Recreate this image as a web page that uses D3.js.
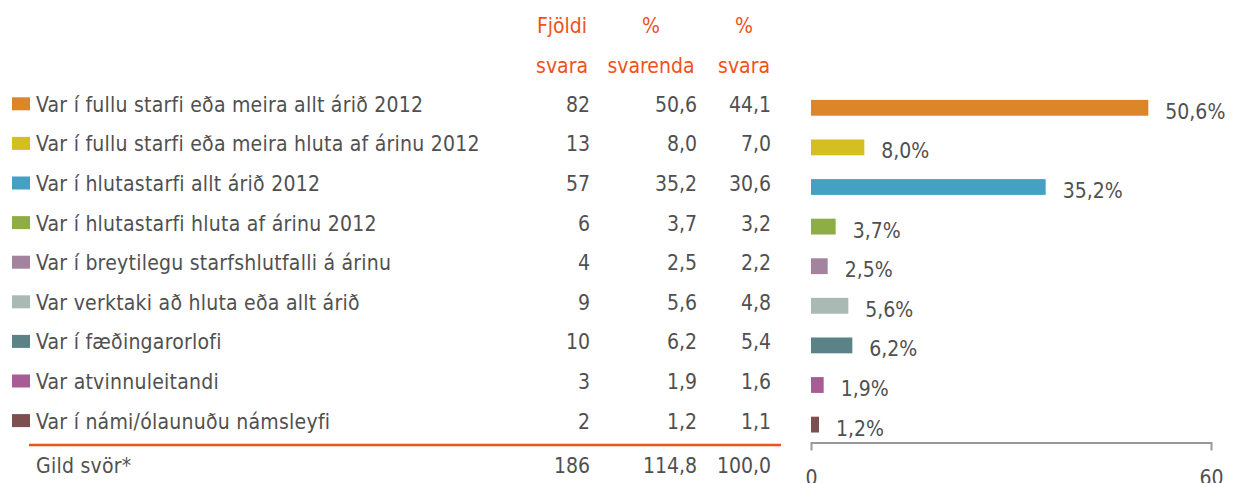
<!DOCTYPE html>
<html>
<head>
<meta charset="utf-8">
<script src="https://cdn.jsdelivr.net/npm/d3@7"></script>
<style>
  html, body { margin: 0; padding: 0; background: #fff; }
  svg { display: block; }
  text { font-family: "Liberation Sans Narrow", "DejaVu Sans Condensed", "Roboto", sans-serif; }
</style>
</head>
<body>
<svg id="chart" width="1237" height="483"></svg>
<script>
const categories = [
  "Var í fullu starfi eða meira allt árið 2012",
  "Var í fullu starfi eða meira hluta af árinu 2012",
  "Var í hlutastarfi allt árið 2012",
  "Var í hlutastarfi hluta af árinu 2012",
  "Var í breytilegu starfshlutfalli á árinu",
  "Var verktaki að hluta eða allt árið",
  "Var í fæðingarorlofi",
  "Var atvinnuleitandi",
  "Var í námi/ólaunuðu námsleyfi"
];
const counts = [82, 13, 57, 6, 4, 9, 10, 3, 2];
const pctRespondents = [50.6, 8.0, 35.2, 3.7, 2.5, 5.6, 6.2, 1.9, 1.2];
const pctAnswers = [44.1, 7.0, 30.6, 3.2, 2.2, 4.8, 5.4, 1.6, 1.1];
const colors = ["#db8629", "#d4be22", "#45a1c4", "#8fad45", "#a3849f", "#a9b9b3", "#5b8286", "#a85b94", "#7d4f4e"];
const headers = [["Fjöldi", "svara"], ["%", "svarenda"], ["%", "svara"]];
const totalLabel = "Gild svör*";
const totals = ["186", "114,8", "100,0"];
const axisTicks = [0, 60];

const fmt = v => d3.format(".1f")(v).replace(".", ",");
const textColor = "#505050";
const accent = "#f0521a";
const fs = 21;

const svg = d3.select("#chart");

const x = d3.scaleLinear().domain([0, 60]).range([811, 1211]);
const y = d3.scaleBand().domain(categories).range([88, 88 + 356.4]).paddingInner(0.6).paddingOuter(0.3);
const mid = c => y(c) + y.bandwidth() / 2;

// Header
const colRight = [590, 697, 771];
const colCenter = [562, 651, 744];
headers.forEach((h, i) => {
  h.forEach((t, j) => {
    svg.append("text")
      .attr("x", colCenter[i]).attr("y", 33 + j * 39.6)
      .attr("text-anchor", "middle")
      .attr("fill", accent).attr("font-size", fs)
      .text(t);
  });
});

// Rows
const rows = svg.append("g").selectAll("g").data(categories).join("g");
rows.append("rect")
  .attr("x", 12).attr("y", c => mid(c) - 10.5)
  .attr("width", 18).attr("height", 13)
  .attr("fill", (c, i) => colors[i]);
rows.append("text")
  .attr("x", 36).attr("y", c => mid(c) + 4)
  .attr("fill", textColor).attr("font-size", fs)
  .attr("letter-spacing", 0.25)
  .text(c => c);
const cols = [counts.map(String), pctRespondents.map(fmt), pctAnswers.map(fmt)];
cols.forEach((col, k) => {
  rows.append("text")
    .attr("x", colRight[k]).attr("y", c => mid(c) + 4)
    .attr("text-anchor", "end")
    .attr("fill", textColor).attr("font-size", fs)
    .text((c, i) => col[i]);
});

// Separator & totals
svg.append("line").attr("x1", 29).attr("x2", 781).attr("y1", 445).attr("y2", 445)
  .attr("stroke", accent).attr("stroke-width", 2.5);
svg.append("text").attr("x", 36).attr("y", 473)
  .attr("fill", textColor).attr("font-size", fs).attr("letter-spacing", 0.25).text(totalLabel);
totals.forEach((t, k) => {
  svg.append("text").attr("x", colRight[k]).attr("y", 473)
    .attr("text-anchor", "end").attr("fill", textColor).attr("font-size", fs).text(t);
});

// Bars
svg.append("g").selectAll("rect").data(categories).join("rect")
  .attr("x", x(0)).attr("y", c => y(c))
  .attr("width", (c, i) => x(pctRespondents[i]) - x(0))
  .attr("height", y.bandwidth())
  .attr("fill", (c, i) => colors[i]);
svg.append("g").selectAll("text").data(categories).join("text")
  .attr("x", (c, i) => x(pctRespondents[i]) + 17)
  .attr("y", c => mid(c) + 11)
  .attr("fill", textColor).attr("font-size", fs)
  .text((c, i) => fmt(pctRespondents[i]) + "%");

// Axis
const axis = d3.axisBottom(x).tickValues(axisTicks).tickSizeInner(0).tickSizeOuter(8).tickPadding(28)
  .tickFormat(d3.format("d"));
const ag = svg.append("g").attr("transform", "translate(0,442.5)").call(axis);
ag.select(".domain").attr("stroke", "#999").attr("stroke-width", 2);
ag.selectAll("text").attr("fill", textColor).attr("font-size", fs)
  .style("font-family", "'Liberation Sans Narrow', 'DejaVu Sans Condensed', sans-serif");
</script>
</body>
</html>
